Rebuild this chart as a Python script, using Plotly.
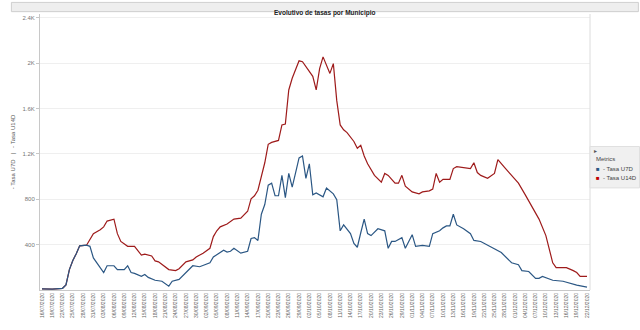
import pandas as pd
import plotly.graph_objects as go

START = pd.Timestamp("2020-07-16")

# Tasa U14D: days since 16/07/2020 and rate values
u14d_day = [0, 3, 6, 7, 8, 9, 10, 11, 13, 15, 17, 18, 19, 21, 22, 23, 25, 27, 29, 30,
            32, 33, 34, 37, 39, 40, 42, 44, 45, 47, 49, 50, 51, 52, 54, 55, 56, 58, 60, 61,
            62, 63, 64, 65, 66, 67, 69, 70, 71, 72, 73, 74, 75, 76, 78, 79, 80, 81, 82, 84,
            85, 86, 87, 88, 89, 90, 91, 92, 93, 94, 95, 97, 99, 100, 101, 103, 104, 105, 106, 108,
            110, 111, 113, 114, 115, 116, 117, 119, 120, 121, 123, 125, 126, 127, 128, 130, 132, 133, 135, 137,
            139, 141, 143, 145, 147, 148, 149, 150, 153, 155, 156, 157, 159]
u14d_val = [10, 8, 15, 45, 180, 260, 320, 390, 395, 497, 531, 557, 608, 625, 497, 428, 385, 385, 308, 317,
            300, 257, 248, 180, 171, 188, 248, 265, 291, 325, 368, 471, 522, 557, 582, 600, 625, 634, 694, 805,
            831, 880, 1011, 1122, 1285, 1302, 1319, 1456, 1464, 1764, 1867, 1953, 2021, 2013, 1927, 1884, 1764, 1953, 2056, 1910,
            1996, 1670, 1456, 1413, 1388, 1353, 1310, 1250, 1276, 1182, 1113, 1011, 951, 1028, 1011, 942, 942, 1011, 916, 865,
            848, 865, 874, 890, 1028, 951, 976, 976, 1071, 1088, 1079, 1071, 1122, 1036, 1011, 985, 1028, 1150, 1079, 1011,
            942, 839, 737, 625, 480, 368, 240, 197, 197, 171, 154, 120, 120]

# Tasa U7D
u7d_day = [0, 3, 6, 7, 8, 9, 10, 11, 13, 14, 15, 18, 19, 21, 22, 24, 25, 26, 27, 29,
           30, 31, 33, 35, 37, 38, 40, 42, 44, 46, 48, 49, 50, 53, 54, 55, 56, 58, 60, 61,
           62, 63, 64, 65, 66, 67, 68, 69, 70, 71, 72, 73, 74, 75, 76, 77, 78, 79, 80, 82,
           83, 85, 86, 87, 88, 90, 91, 92, 93, 94, 95, 96, 98, 100, 101, 102, 103, 105, 106, 108,
           109, 111, 113, 114, 116, 117, 118, 119, 120, 121, 123, 125, 126, 128, 131, 134, 137, 139, 140, 142,
           144, 145, 146, 148, 149, 152, 154, 156, 159]
u7d_val = [10, 8, 15, 45, 180, 260, 320, 390, 395, 385, 283, 154, 214, 214, 180, 180, 214, 154, 146, 120,
           137, 111, 86, 77, 34, 77, 94, 154, 214, 205, 231, 240, 291, 351, 334, 342, 368, 325, 342, 454,
           462, 437, 668, 754, 925, 942, 831, 831, 1011, 814, 1028, 908, 1036, 1165, 1182, 985, 1113, 839, 856, 822,
           899, 848, 796, 522, 574, 497, 411, 377, 505, 625, 497, 480, 540, 522, 368, 428, 428, 462, 368, 488,
           385, 394, 385, 497, 522, 548, 565, 565, 668, 574, 540, 497, 437, 428, 380, 330, 240, 223, 171, 163,
           103, 103, 120, 94, 86, 77, 60, 43, 26]

# Axis ticks: a label every three days, thousands shortened on the value axis
tick_dates = pd.date_range("2020-07-16", "2020-12-22", freq="3D")
tick_text = [d.strftime("%d/%m/%Y") for d in tick_dates]
y_ticks = [400, 800, 1200, 1600, 2000, 2400]
y_text = ["400", "800", "1.2K", "1.6K", "2K", "2.4K"]

FONT = "Arial, Liberation Sans, sans-serif"
BLUE = "#2b5784"
RED = "#9e1b1b"


def to_dates(days):
    return [START + pd.Timedelta(days=d) for d in days]


fig = go.Figure()
fig.add_trace(go.Scatter(x=to_dates(u14d_day), y=u14d_val, mode="lines",
                         name="- Tasa U14D", line=dict(color=RED, width=1.2)))
fig.add_trace(go.Scatter(x=to_dates(u7d_day), y=u7d_val, mode="lines",
                         name="- Tasa U7D", line=dict(color=BLUE, width=1.2)))

fig.update_layout(
    width=640, height=330,
    margin=dict(l=30, r=50, t=14, b=32),
    paper_bgcolor="white", plot_bgcolor="white",
    showlegend=False,
    font=dict(family=FONT, size=6, color="#555"),
    xaxis=dict(
        type="date",
        range=["2020-07-15 10:15", "2020-12-22 21:00"],
        tickmode="array", tickvals=tick_dates, ticktext=tick_text,
        tickangle=-90, tickfont=dict(size=5, color="#666"),
        showgrid=False, showline=True, linecolor="#c8c8c8", linewidth=1,
        ticks="", zeroline=False,
    ),
    yaxis=dict(
        range=[0, 2434],
        tickmode="array", tickvals=y_ticks, ticktext=y_text,
        tickfont=dict(size=6, color="#777"),
        showgrid=True, gridcolor="#efefef", gridwidth=1,
        showline=True, linecolor="#c8c8c8", linewidth=1,
        ticks="outside", ticklen=3, tickcolor="#c8c8c8",
        zeroline=False,
        title=dict(text="- Tasa U7D   |   - Tasa U14D", font=dict(size=6, color="#555"), standoff=6),
    ),
)

# Title band across the top
fig.add_shape(type="rect", xref="paper", yref="paper", x0=-0.052, x1=1.088, y0=1.0085, y1=1.042,
              fillcolor="#eeeeee", line=dict(color="#cfcfcf", width=1), layer="below")
fig.add_annotation(text="<b>Evolutivo de tasas por Municipio</b>", xref="paper", yref="paper",
                   x=0.518, y=1.025, showarrow=False, font=dict(size=6.5, color="#222", family=FONT))

# Divider between the plot and the legend panel
fig.add_shape(type="line", xref="paper", yref="paper", x0=1.0, x1=1.0, y0=0.0, y1=1.0,
              line=dict(color="#dcdcdc", width=1))

# Legend panel
fig.add_shape(type="rect", xref="paper", yref="paper", x0=1.0, x1=1.09, y0=0.37, y1=0.52,
              fillcolor="#f0f0f0", line=dict(color="#e0e0e0", width=1))
fig.add_annotation(text="▸", xref="paper", yref="paper", x=1.004, y=0.505, xanchor="left",
                   showarrow=False, font=dict(size=6, color="#555"))
fig.add_annotation(text="Metrics", xref="paper", yref="paper", x=1.008, y=0.475, xanchor="left",
                   showarrow=False, font=dict(size=6, color="#444"))
fig.add_annotation(text=f"<span style='color:{BLUE}'>■</span>  - Tasa U7D", xref="paper", yref="paper",
                   x=1.008, y=0.437, xanchor="left", showarrow=False, font=dict(size=6, color="#444"))
fig.add_annotation(text="<span style='color:#c00000'>■</span>  - Tasa U14D", xref="paper", yref="paper",
                   x=1.008, y=0.405, xanchor="left", showarrow=False, font=dict(size=6, color="#444"))

fig.write_html("out.html")
